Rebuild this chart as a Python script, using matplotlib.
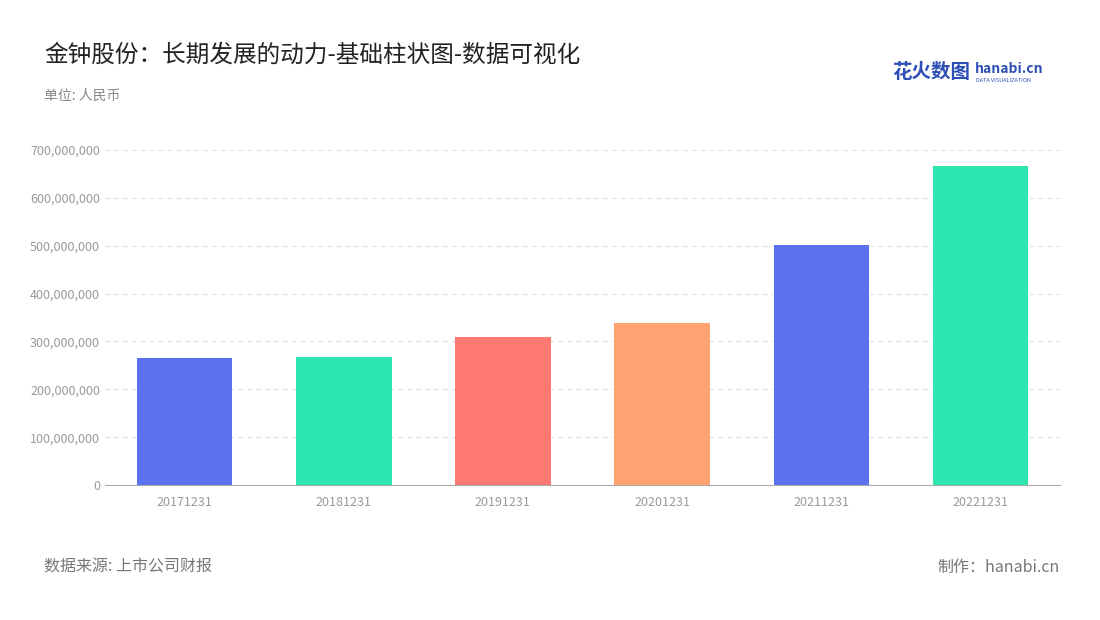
import matplotlib.pyplot as plt
from matplotlib.ticker import FuncFormatter

plt.rcParams['font.family'] = ['Noto Sans CJK SC', 'DejaVu Sans']

dates = ["20171231", "20181231", "20191231", "20201231", "20211231", "20221231"]
values = [265e6, 267e6, 309e6, 338e6, 501e6, 666e6]
colors = ["#5a72ee", "#2ee6b0", "#ff7872", "#ffa372", "#5a72ee", "#2ee6b0"]

fig = plt.figure(figsize=(11, 6.2), dpi=100)
ax = fig.add_axes([105/1100, 1 - 485/620, 955/1100, 335/620])

ax.bar(range(len(dates)), values, width=0.6, color=colors, zorder=3)
ax.set_xlim(-0.5, len(dates) - 0.5)
ax.set_ylim(0, 700e6)
ax.set_yticks([i * 100e6 for i in range(8)])
ax.yaxis.set_major_formatter(FuncFormatter(lambda v, p: f"{int(v):,}"))
ax.set_xticks(range(len(dates)))
ax.set_xticklabels(dates)
ax.tick_params(axis='both', colors='#999999', labelsize=9, length=0)
ax.tick_params(axis='x', pad=8)
ax.grid(axis='y', color='#dddddd', linestyle=(0, (4, 4)), zorder=0)
for s in ['top', 'right', 'left']:
    ax.spines[s].set_visible(False)
ax.spines['bottom'].set_color('#aaaaaa')

fig.text(44/1100, 1 - 55/620, "金钟股份：长期发展的动力-基础柱状图-数据可视化", fontsize=17, color='#222222', va='center')
fig.text(44/1100, 1 - 96/620, "单位: 人民币", fontsize=10, color='#888888', va='center')
fig.text(44/1100, 1 - 567/620, "数据来源: 上市公司财报", fontsize=11.5, color='#777777', va='center')
fig.text(1060/1100, 1 - 567/620, "制作：hanabi.cn", fontsize=11.5, color='#777777', va='center', ha='right')
fig.text(892/1100, 1 - 73/620, "花火数图", fontsize=14, color='#2d4fb5', va='center', fontweight='bold')
fig.text(975/1100, 1 - 69/620, "hanabi.cn", fontsize=10, color='#2d4fb5', va='center', fontweight='bold')
fig.text(976/1100, 1 - 80/620, "DATA VISUALIZATION", fontsize=4, color='#2d4fb5', va='center')

fig.savefig("out.png", dpi=100, facecolor='white')
